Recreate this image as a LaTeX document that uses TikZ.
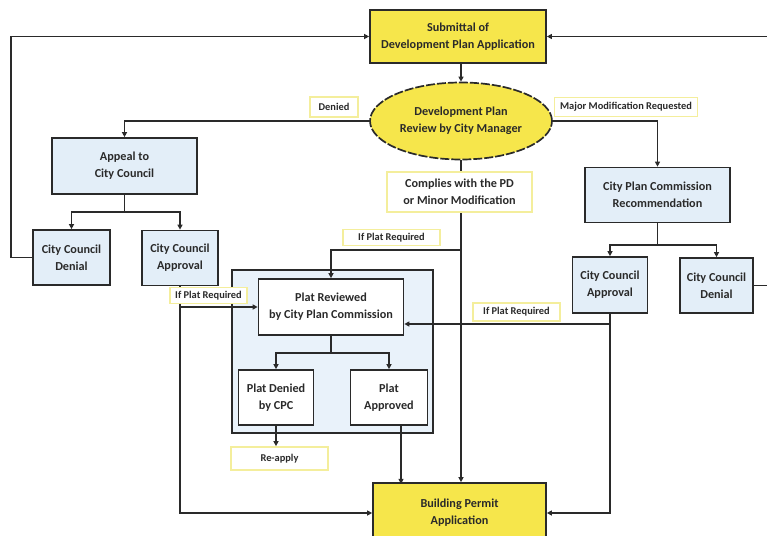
\documentclass[tikz,border=0pt]{standalone}
\usepackage{fontspec}
\setmainfont{Carlito}
\usetikzlibrary{shapes.geometric,arrows.meta}

\definecolor{appyellow}{HTML}{F6E64B}
\definecolor{boxblue}{HTML}{E3EEF8}
\definecolor{groupblue}{HTML}{E9F2FA}
\definecolor{tagyellow}{HTML}{F4EE9C}
\definecolor{linegray}{HTML}{2A2A2A}

\newcommand{\mainsize}{\fontsize{12.2}{17}\selectfont\bfseries}
\newcommand{\tagsize}{\fontsize{10.4}{12}\selectfont\bfseries}

\begin{document}
\begin{tikzpicture}[x=1pt, y=-1pt, line width=1.7pt, color=linegray,
  >={Triangle[length=5pt,width=5pt]},
  box/.style={draw, rectangle, fill=boxblue, font=\mainsize, align=center, inner sep=2pt},
  yellowbox/.style={box, fill=appyellow},
  platbox/.style={box, fill=white},
  tag/.style={draw=tagyellow, rectangle, fill=white, font=\tagsize, align=center, inner sep=1pt}]
  \useasboundingbox (0,0) rectangle (767,535);
  \clip (0,0) rectangle (767,535);

  % plat review group
  \draw[fill=groupblue, line width=1.4pt] (232,270) rectangle (433,433);

  \node[yellowbox, minimum width=176pt, minimum height=53pt] (submit) at (458,36.5) {Submittal of\\Development Plan Application};
  \node[draw, ellipse, fill=appyellow, dash pattern=on 9pt off 2pt, minimum width=182pt, minimum height=77pt, inner sep=0pt, font=\mainsize, align=center] (review) at (461,121) {Development Plan\\Review by City Manager};

  \node[box, minimum width=145pt, minimum height=56pt] (appeal) at (124.5,166) {Appeal to\\City Council};
  \node[box, minimum width=77pt, minimum height=55pt] (ccdenyL) at (71.5,257.5) {City Council\\Denial};
  \node[box, minimum width=76pt, minimum height=55pt] (ccapprL) at (180,258) {City Council\\Approval};

  \node[box, minimum width=145pt, minimum height=55pt] (cpc) at (657.5,195) {City Plan Commission\\Recommendation};
  \node[box, minimum width=75pt, minimum height=56pt] (ccapprR) at (610,285) {City Council\\Approval};
  \node[box, minimum width=73pt, minimum height=55pt] (ccdenyR) at (716.5,285.5) {City Council\\Denial};

  \node[platbox, minimum width=145pt, minimum height=56pt] (platrev) at (331,307) {Plat Reviewed\\by City Plan Commission};
  \node[platbox, minimum width=75pt, minimum height=55pt] (platden) at (276,397.5) {Plat Denied\\by CPC};
  \node[platbox, minimum width=77pt, minimum height=55pt] (platapp) at (389,397.5) {Plat\\Approved};

  \node[yellowbox, minimum width=173pt, minimum height=60pt] (permit) at (459.5,513) {Building Permit\\Application};

  \coordinate (tbranch) at (460,250);
  \coordinate (rbranch) at (610,324);

  \draw[->] (submit.south -| review.north) -- (review.north);
  \draw[->] (review.west) -| (appeal.north);
  \draw[->] (appeal.south) -- ++(0,17) -| (ccdenyL.north);
  \draw[->] (appeal.south) -- ++(0,17) -| (ccapprL.north);
  \draw[->] (ccdenyL.west) -- ++(-21,0) |- (submit.west);

  \draw[->] (review.east) -| (cpc.north);
  \draw[->] (cpc.south) -- ++(0,21.5) -| (ccapprR.north);
  \draw[->] (cpc.south) -- ++(0,21.5) -| (ccdenyR.north);
  \draw[->] (ccdenyR.east) -- ++(40,0) |- (submit.east);

  \draw[->] (review.south) -- (review.south |- permit.north);
  \draw[->] (tbranch) -| (platrev.north);
  \draw[->] (platrev.south) -- ++(0,17) -| (platden.north);
  \draw[->] (platrev.south) -- ++(0,17) -| (platapp.north);
  \draw[->] ([xshift=12pt]platapp.south) -- ++(0,58);

  \draw[->] (ccapprL.south) |- (permit.west);
  \draw[->] (ccapprL.south |- platrev.west) -- (platrev.west);
  \draw[->] (ccapprR.south) |- (permit.east);
  \draw[->] (rbranch) -- (rbranch -| platrev.east);

  \node[tag, minimum width=97pt, minimum height=23pt] (reapply) at (279.5,458.5) {Re-apply};
  \draw[->] (platden.south) -- (platden.south |- reapply.north);

  % labels on the connectors
  \node[tag, minimum width=48pt, minimum height=20pt] (denied) at (334,107) {Denied};
  \node[tag, minimum width=143pt, minimum height=19pt] (majmod) at (626,107) {Major Modification Requested};
  \node[tag, font=\mainsize, minimum width=145pt, minimum height=40pt] (complies) at (459.5,192) {Complies with the PD\\or Minor Modification};
  \node[tag, minimum width=97pt, minimum height=16pt] (ifplatT) at (391.5,237.5) {If Plat Required};
  \node[tag, minimum width=77pt, minimum height=16pt] (ifplatL) at (208.5,295.5) {If Plat Required};
  \node[tag, minimum width=87pt, minimum height=18pt] (ifplatR) at (516.5,312) {If Plat Required};
\end{tikzpicture}
\end{document}
